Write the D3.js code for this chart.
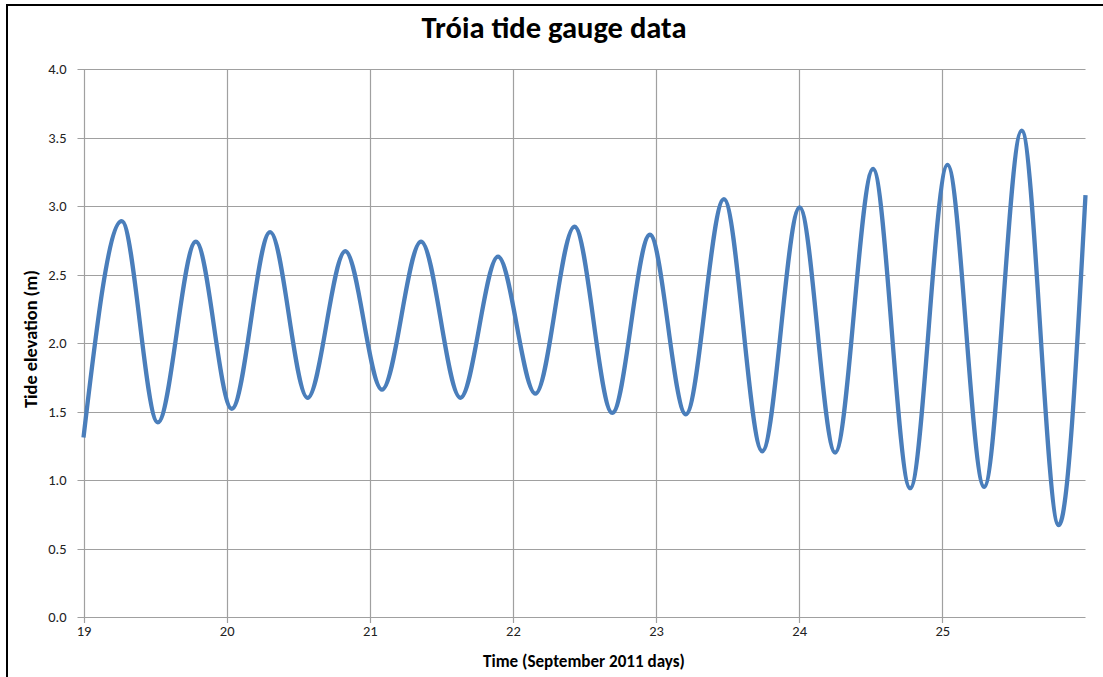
<!DOCTYPE html>
<html><head><meta charset="utf-8">
<script src="https://cdn.jsdelivr.net/npm/d3@7"></script>
<style>
html,body{margin:0;padding:0;background:#fff;overflow:hidden}
svg{display:block}
</style></head>
<body>
<svg id="chart" width="1103" height="677"></svg>
<script>
// Time (September 2011 days) of readings — extremes, plus start/end
const times = [19.0, 19.267, 19.519, 19.785, 20.036, 20.304, 20.565, 20.829, 21.085, 21.358, 21.633,
  21.896, 22.157, 22.430, 22.694, 22.957, 23.208, 23.474, 23.742, 24.003, 24.251, 24.516, 24.775,
  25.036, 25.292, 25.554, 25.813, 26.0];
// Tide elevation (m)
const elevations = [1.31, 2.89, 1.42, 2.74, 1.52, 2.81, 1.60, 2.67, 1.66, 2.74, 1.60,
  2.63, 1.63, 2.85, 1.49, 2.79, 1.48, 3.05, 1.21, 2.99, 1.20, 3.27, 0.94,
  3.30, 0.95, 3.55, 0.67, 3.08];
const xTicks = [19, 20, 21, 22, 23, 24, 25];
const yTicks = [0, 0.5, 1, 1.5, 2, 2.5, 3, 3.5, 4];
const title = "Tróia tide gauge data";
const xTitle = "Time (September 2011 days)";
const yTitle = "Tide elevation (m)";

const svg = d3.select("#chart");
const L = 83.5, R = 1085.5, T = 69, B = 617;
const x = d3.scaleLinear().domain([19, 26]).range([L, R]);
const y = d3.scaleLinear().domain([0, 4]).range([B, T]);
const font = "Carlito, Calibri, Lato, 'Open Sans', sans-serif";

// outer frame (cut off at right and bottom)
svg.append("rect").attr("x", 7).attr("y", 5).attr("width", 1200).attr("height", 800)
  .attr("fill", "none").attr("stroke", "#000").attr("stroke-width", 2);

// gridlines
const grid = svg.append("g");
grid.selectAll("line.h").data(yTicks).join("line")
  .attr("x1", L - 6).attr("x2", R).attr("y1", d => Math.round(y(d)) + 0.5).attr("y2", d => Math.round(y(d)) + 0.5)
  .attr("stroke", "#a0a0a0").attr("stroke-width", 1.2);
grid.selectAll("line.v").data(xTicks).join("line")
  .attr("y1", T).attr("y2", B + 6).attr("x1", d => Math.round(x(d)) + 0.5).attr("x2", d => Math.round(x(d)) + 0.5)
  .attr("stroke", "#a0a0a0").attr("stroke-width", 1.2);

// axes labels via d3 axes
const yAxis = svg.append("g").attr("transform", `translate(${L},0)`)
  .call(d3.axisLeft(y).tickValues(yTicks).tickFormat(d3.format(".1f")).tickSize(0).tickPadding(17));
const xAxis = svg.append("g").attr("transform", `translate(0,${B})`)
  .call(d3.axisBottom(x).tickValues(xTicks).tickFormat(d3.format("d")).tickSize(0).tickPadding(9));
[xAxis, yAxis].forEach(a => {
  a.select(".domain").remove();
  a.selectAll("text").attr("font-family", font).attr("font-size", 14.5).attr("fill", "#222");
});

// line
const line = d3.line().x((d, i) => x(times[i])).y(d => y(d)).curve(d3.curveMonotoneX);
svg.append("path").datum(elevations).attr("d", line)
  .attr("fill", "none").attr("stroke", "#4a7ebb").attr("stroke-width", 4.3).attr("stroke-linejoin", "round");

// titles
function fitText(sel, w) {
  const len = sel.node().getComputedTextLength();
  const fs = parseFloat(sel.attr("font-size"));
  sel.attr("font-size", fs * w / len);
}
const t = svg.append("text").attr("x", 554).attr("y", 38).attr("text-anchor", "middle")
  .attr("font-family", font).attr("font-weight", "bold").attr("font-size", 24).attr("fill", "#000").text(title);
fitText(t, 265);
const xt = svg.append("text").attr("x", 584).attr("y", 667).attr("text-anchor", "middle")
  .attr("font-family", font).attr("font-weight", "bold").attr("font-size", 13).attr("fill", "#000").text(xTitle);
fitText(xt, 202);
const yt = svg.append("text").attr("transform", "translate(37,339) rotate(-90)").attr("text-anchor", "middle")
  .attr("font-family", font).attr("font-weight", "bold").attr("font-size", 13).attr("fill", "#000").text(yTitle);
fitText(yt, 138);
</script>
</body></html>
